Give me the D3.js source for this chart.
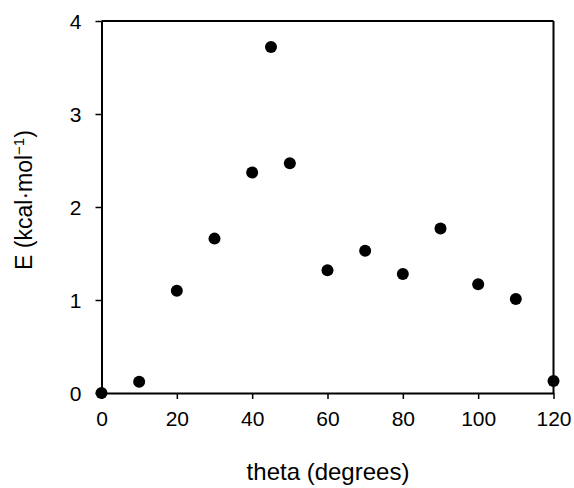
<!DOCTYPE html>
<html><head><meta charset="utf-8">
<script src="https://cdn.jsdelivr.net/npm/d3@7"></script>
<style>body{margin:0;background:#fff;} text{font-family:"Liberation Sans",Arial,sans-serif;fill:#000;}</style>
</head><body>
<svg id="c" width="574" height="488"></svg>
<script>
const theta = [0, 10, 20, 30, 40, 45, 50, 60, 70, 80, 90, 100, 110, 120];
const energy = [0.0, 0.12, 1.10, 1.66, 2.37, 3.72, 2.47, 1.32, 1.53, 1.28, 1.77, 1.17, 1.01, 0.13];
const xTicks = [0, 20, 40, 60, 80, 100, 120];
const yTicks = [0, 1, 2, 3, 4];

const svg = d3.select("#c");
const L = 101.5, R = 553.5, T = 21, B = 393;
const x = d3.scaleLinear().domain([0, 120]).range([L, R]);
const y = d3.scaleLinear().domain([0, 4]).range([B, T]);

// frame top & right
svg.append("line").attr("x1", L).attr("x2", R).attr("y1", T).attr("y2", T).attr("stroke", "#000").attr("stroke-width", 2);
svg.append("line").attr("x1", R).attr("x2", R).attr("y1", T).attr("y2", B).attr("stroke", "#000").attr("stroke-width", 2);

const xa = svg.append("g").attr("transform", `translate(0,${B})`)
  .call(d3.axisBottom(x).tickValues(xTicks).tickFormat(d3.format("d")).tickSize(6).tickPadding(12).tickSizeOuter(0));
const ya = svg.append("g").attr("transform", `translate(${L},0)`)
  .call(d3.axisLeft(y).tickValues(yTicks).tickFormat(d3.format("d")).tickSize(6).tickPadding(14).tickSizeOuter(0));
[xa, ya].forEach(g => {
  g.select(".domain").attr("stroke", "#000").attr("stroke-width", 2);
  g.selectAll(".tick line").attr("stroke", "#000").attr("stroke-width", 1.5);
  g.selectAll(".tick text").attr("font-size", 21).attr("font-family", "Liberation Sans, Arial, sans-serif").attr("fill", "#000");
});
ya.selectAll(".tick text").attr("dy", "0.36em");

svg.append("g").selectAll("circle").data(theta).join("circle")
  .attr("cx", (d) => x(d)).attr("cy", (d, i) => y(energy[i])).attr("r", 6).attr("fill", "#000");

svg.append("text").attr("x", 328).attr("y", 480).attr("text-anchor", "middle").attr("font-size", 24)
  .text("theta (degrees)");

const yt = svg.append("text").attr("transform", "translate(32,200) rotate(-90)").attr("text-anchor", "middle").attr("font-size", 23);
yt.append("tspan").text("E (kcal·mol");
yt.append("tspan").attr("font-size", 15).attr("dy", -8).text("−1");
yt.append("tspan").attr("dy", 8).text(")");
</script>
</body></html>
